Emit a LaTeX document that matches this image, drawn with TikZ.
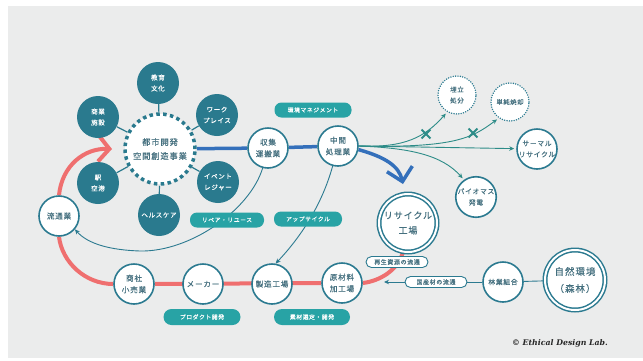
\documentclass[tikz,border=0pt]{standalone}
\usepackage{fontspec}
\newfontfamily\jp{Noto Sans CJK JP}[FakeBold=0.25]
\newfontfamily\jpl{Noto Sans CJK JP}[LetterSpace=10,FakeBold=0.3]
\newfontfamily\cpy{DejaVu Serif}
\usetikzlibrary{arrows.meta,shapes.misc}
\definecolor{bgc}{HTML}{EBECEC}
\definecolor{dteal}{HTML}{2A7A8E}
\definecolor{oteal}{HTML}{2B7A90}
\definecolor{pteal}{HTML}{28A3A5}
\definecolor{txt}{HTML}{45707F}
\definecolor{bl}{HTML}{3470BB}
\definecolor{pk}{HTML}{EF6F6F}
\definecolor{gt}{HTML}{2D8C88}
\pgfdeclarelayer{back}
\pgfdeclarelayer{edges}
\pgfsetlayers{back,edges,main}
\begin{document}
\begin{tikzpicture}[x=1pt,y=-1pt,
 sat/.style={circle,fill=dteal,minimum size=42pt,inner sep=0pt,text=white,align=center,font=\jpl\fontsize{6.5}{11}\selectfont},
 wc/.style={circle,draw=oteal,line width=1.6pt,fill=white,minimum size=40pt,inner sep=0pt,text=txt,align=center,font=\jpl\fontsize{7.6}{11.5}\selectfont},
 dc/.style={wc,dash pattern=on 0pt off 2.4pt,line cap=round,minimum size=38pt},
 bigc/.style={wc,double=white,double distance=2pt,line width=1.5pt,minimum size=58pt,font=\jpl\fontsize{9}{15}\selectfont},
 hubc/.style={circle,draw=dteal,line width=3.5pt,dash pattern=on 3.5pt off 3.4pt,fill=white,minimum size=70pt,inner sep=0pt,text=txt,align=center,font=\jpl\fontsize{8.3}{14}\selectfont},
 pill/.style={rounded corners=7pt,fill=pteal,text=white,minimum height=15pt,inner sep=0pt,font=\jpl\fontsize{5.8}{7}\selectfont},
 opill/.style={rounded corners=5.5pt,draw=oteal,line width=0.9pt,fill=white,text=txt,minimum height=11pt,minimum width=62pt,inner sep=0pt,font=\jpl\fontsize{6}{7}\selectfont},
 thinl/.style={oteal,line width=0.9pt},
 tarrow/.style={-{Stealth[length=5pt,width=4.5pt]}},
 gthin/.style={gt,line width=0.9pt,-{Stealth[length=5pt,width=4.5pt]},shorten >=2pt},
 xmark/.style={cross out,draw=gt,line width=1.8pt,minimum size=7pt,inner sep=0pt},
 pinkl/.style={pk,line width=4pt},
 bluel/.style={bl,line width=3.5pt},
]
\useasboundingbox (0,0) rectangle (643,360);
\begin{pgfonlayer}{back}
\fill[white] (0,0) rectangle (643,360);
\fill[bgc] (8,6) rectangle (643,358);
\end{pgfonlayer}

% hub and satellites
\node[hubc] (hub) at (160,149) {都市開発\\空間創造事業};
\node[sat] (kyo) at (158,83) {教育\\文化};
\node[sat] (sho) at (98,117) {商業\\施設};
\node[sat] (wor) at (217,115) {ワーク\\プレイス};
\node[sat] (eki) at (98,183) {駅\\空港};
\node[sat] (evt) at (218,182) {イベント\\レジャー};
\node[sat] (hel) at (159,215) {ヘルスケア};

% white circles
\node[wc] (shu) at (268,148) {収集\\運搬業};
\node[wc] (chu) at (338,146) {中間\\処理業};
\node[wc] (ryu) at (59,216) {流通業};
\node[wc] (shosha) at (134,284) {商社\\小売業};
\node[wc] (maker) at (203,284) {メーカー};
\node[wc] (seizo) at (272,284) {製造工場};
\node[wc] (orig) at (342,283) {原材料\\加工場};
\node[wc,font=\jpl\fontsize{6.8}{10}\selectfont] (ringyo) at (503,282) {林業組合};
\node[wc,font=\jpl\fontsize{6.8}{11}\selectfont] (therm) at (537,149) {サーマル\\リサイクル};
\node[wc,font=\jpl\fontsize{6.8}{11}\selectfont] (bioma) at (476,197) {バイオマス\\発電};
\node[dc,font=\jpl\fontsize{6.5}{11}\selectfont] (ume) at (457,95) {埋立\\処分};
\node[dc,font=\jpl\fontsize{6.3}{11}\selectfont] (tanjun) at (510,102) {単純焼却};
\node[bigc] (rec) at (408,223) {リサイクル\\工場};
\node[bigc,minimum size=60pt,font=\jpl\fontsize{9.5}{17}\selectfont] (nat) at (575,280) {自然環境\\（森林）};

% pills
\node[pill,minimum width=77pt] (kankyo) at (313,110) {環境マネジメント};
\node[pill,minimum width=74pt] (repair) at (227,220) {リペア・リユース};
\node[pill,minimum width=68pt] (upc) at (308,219) {アップサイクル};
\node[pill,minimum width=77pt,minimum height=16pt,rounded corners=8pt] (prod) at (202,317) {プロダクト開発};
\node[pill,minimum width=76pt,minimum height=16pt,rounded corners=8pt] (sozai) at (312,317) {素材選定・開発};
\node[opill] (saisei) at (397,262) {再生資源の流通};
\node[opill] (kokusan) at (436,282) {国産材の流通};

% cross marks
\node[xmark] (x1) at (426,134) {};
\node[xmark] (x2) at (473,133) {};

% copyright
\node[font=\cpy\bfseries\itshape\fontsize{7.8}{9}\selectfont,text=black!85] (cr) at (560,343) {© Ethical Design Lab.};

\coordinate (blueTip) at (403,184);
\coordinate (pinkTip) at (112,149);
\coordinate (kokTip) at (384,282);

\begin{pgfonlayer}{edges}
\foreach \s in {kyo,sho,wor,eki,evt,hel} \draw[dteal,line width=1.2pt] (hub) -- (\s);
% blue main flow
\draw[bluel] (hub) -- (shu);
\draw[bluel] (shu) -- (chu);
\draw[bluel,-{Straight Barb[length=13pt,width=26pt]}] (chu.-10) .. controls (385,157) and (399,166) .. (blueTip);
% green branches
\draw[gthin] (chu.east) -- (therm);
\draw[gthin] (chu.east) .. controls (405,148) and (425,137) .. (ume.240);
\draw[gthin] (chu.east) .. controls (455,148) and (472,138) .. (tanjun.235);
\draw[gthin] (chu.east) .. controls (410,148) and (442,155) .. (bioma.125);
% pink loop
\draw[pinkl] (orig) -- (shosha);
\draw[pinkl] (shosha.west) .. controls (85,284) and (62,262) .. (ryu.south);
\draw[pinkl,-{Straight Barb[length=11pt,width=26pt]}] (ryu.north) .. controls (62,165) and (85,148) .. (pinkTip);
\draw[pinkl] (rec.-100) .. controls (398,270) and (380,281) .. (orig.east);
% thin connectors
\draw[thinl,tarrow] (shu.255) .. controls (250,210) and (190,252) .. (140,251) .. controls (110,250) and (88,244) .. (ryu.-40);
\draw[thinl,tarrow] (chu.255) .. controls (322,205) and (300,238) .. (seizo.80);
\draw[thinl,tarrow] (ringyo) -- (kokTip);
\draw[thinl] (ringyo) -- (nat);
\end{pgfonlayer}
\end{tikzpicture}
\end{document}
